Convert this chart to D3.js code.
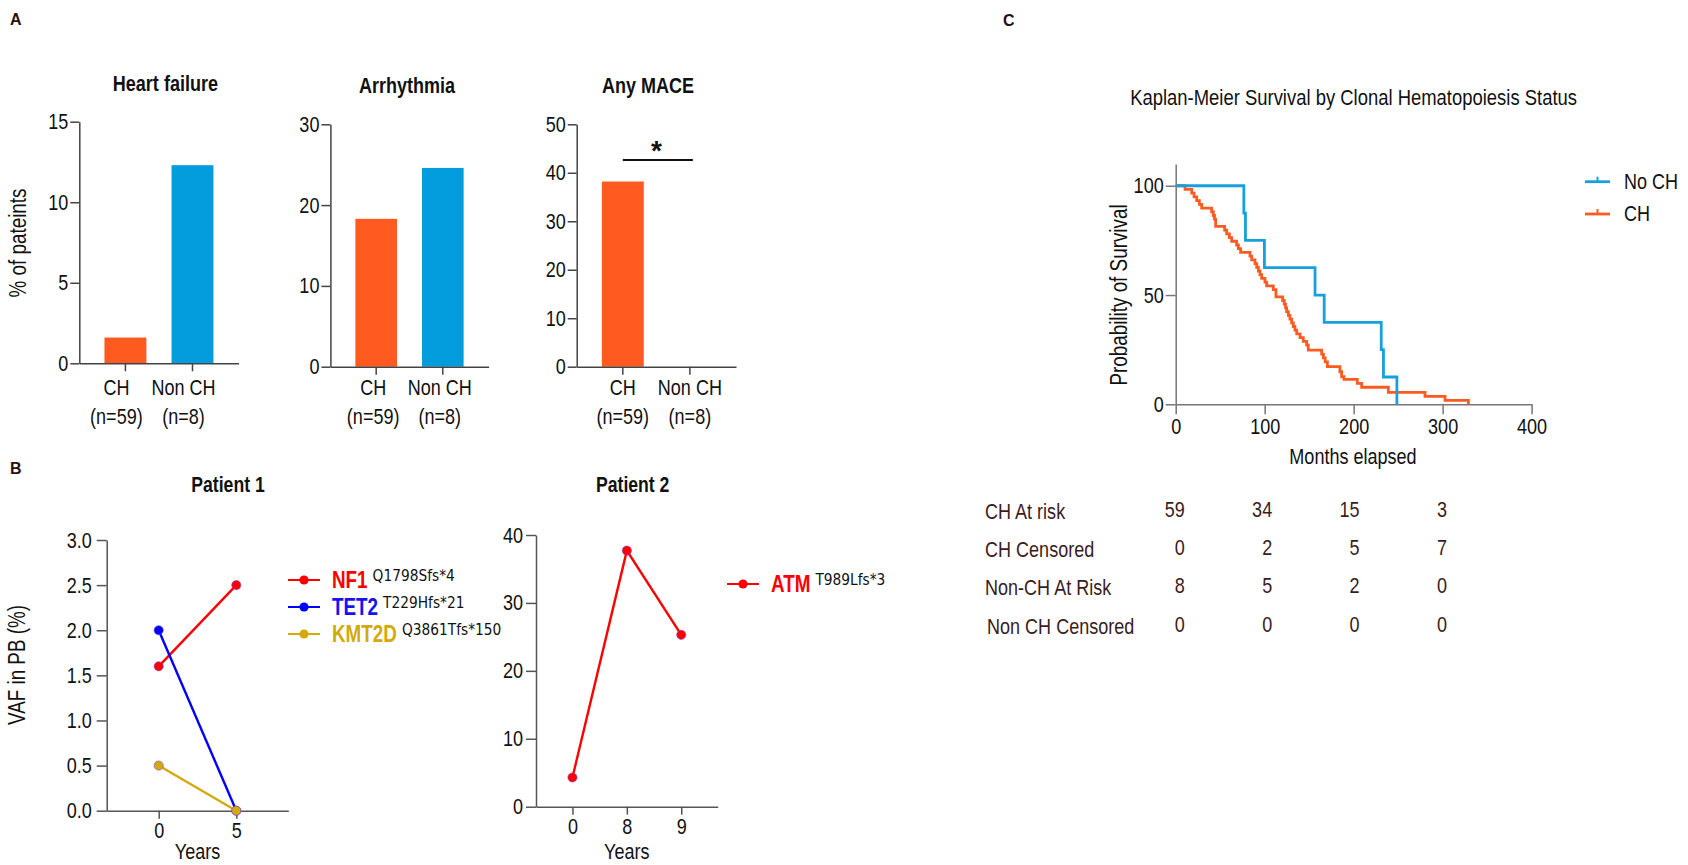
<!DOCTYPE html>
<html><head><meta charset="utf-8">
<script src="https://cdn.jsdelivr.net/npm/d3@7"></script>
<style>
body{margin:0;background:#fff}
svg{display:block}
text{font-family:'Liberation Sans',Arial,sans-serif}
</style></head>
<body><svg id="c" width="1688" height="865"></svg>
<script>
// ---------- DATA ----------
const barCategories = ["CH", "Non CH"];
const barCounts = ["(n=59)", "(n=8)"];
const barTitles = ["Heart failure", "Arrhythmia", "Any MACE"];
const heartFailure = [1.6, 12.3];
const arrhythmia = [18.3, 24.6];
const anyMace = [38.2, 0];
const hfTicks = [0, 5, 10, 15];
const arrTicks = [0, 10, 20, 30];
const maceTicks = [0, 10, 20, 30, 40, 50];
const barYLabel = "% of pateints";

const p1Years = ["0", "5"];
const p1Genes = ["NF1", "TET2", "KMT2D"];
const p1Mutations = ["Q1798Sfs*4", "T229Hfs*21", "Q3861Tfs*150"];
const nf1Vaf = [1.6, 2.5];
const tet2Vaf = [2.0, 0.0];
const kmt2dVaf = [0.5, 0.0];
const p1Ticks = [0, 0.5, 1.0, 1.5, 2.0, 2.5, 3.0];

const p2Years = ["0", "8", "9"];
const p2Genes = ["ATM"];
const p2Mutations = ["T989Lfs*3"];
const atmVaf = [4.3, 37.7, 25.3];
const p2Ticks = [0, 10, 20, 30, 40];

const kmTitle = "Kaplan-Meier Survival by Clonal Hematopoiesis Status";
const kmNoChTimes = [0, 76.6, 78.4, 99.7, 156.6, 166.9, 231, 233.5, 248.6];
const kmNoChSurv  = [100, 87.5, 75, 62.5, 50, 37.5, 25, 12.5, 0];
const kmChTimes = [0, 10.5, 18, 20.6, 23.6, 26.6, 29.2, 40.4, 42.3, 43.6, 44.9, 55, 57.3, 60.3, 62.9, 68.5, 70.4, 73,
  83.5, 85.4, 89.1, 91, 92.9, 94.7, 96.6, 100.3, 102.2, 109.7, 112.7, 120.2, 122, 123.5, 124.7, 126.6, 128.4, 130.3,
  132.2, 134, 136, 139.7, 143.4, 147.2, 149, 164, 166, 168, 170.5, 184.6, 186.5, 189.1, 204.1, 209, 239, 280.2, 302.7, 329];
const kmChSurv = [100, 98.3, 96.6, 94.9, 93.2, 91.5, 89.8, 88.1, 86.4, 84.7, 81.4, 79.7, 78.0, 76.3, 74.6, 72.9, 71.2, 69.5,
  67.8, 66.1, 64.4, 62.7, 61.0, 59.3, 57.6, 55.9, 54.2, 52.5, 49.2, 47.5, 45.8, 44.1, 42.4, 40.7, 39.0, 37.3,
  35.6, 33.9, 32.2, 30.5, 28.8, 27.1, 24.8, 23.0, 21.2, 19.4, 17.2, 14.9, 12.6, 11.4, 9.6, 7.8, 5.5, 3.6, 1.8, 0];
const kmXTicks = [0, 100, 200, 300, 400];
const kmYTicks = [0, 50, 100];
const kmLegend = ["No CH", "CH"];

const riskTimes = [0, 100, 200, 300];
const riskRows = ["CH At risk", "CH Censored", "Non-CH At Risk", "Non CH Censored"];
const chAtRisk = [59, 34, 15, 3];
const chCensored = [0, 2, 5, 7];
const nonChAtRisk = [8, 5, 2, 0];
const nonChCensored = [0, 0, 0, 0];

// ---------- STYLE ----------
const ORANGE = "#FF5A1F", BLUE = "#039CDC";
const KM_BLUE = "#17A0DE", KM_ORANGE = "#FF5A1F";
const TXT = "#111";
const NARROW = 0.82;
const svg = d3.select("#c");

function styleAxis(g, color, fs) {
  g.selectAll("path.domain").attr("stroke", color).attr("stroke-width", 1.5);
  g.selectAll(".tick line").attr("stroke", color).attr("stroke-width", 1.5);
  g.selectAll(".tick text").attr("fill", TXT).style("font-size", fs + "px")
    .style("font-family", "'Liberation Sans',Arial,sans-serif");
}

// Panel letters
[["A", 10, 25], ["B", 10, 474], ["C", 1003, 26]].forEach(([t, x, y]) => {
  svg.append("text").attr("class", "wide").attr("x", x).attr("y", y).text(t)
    .style("font-weight", "bold").style("font-size", "16px").attr("fill", "#2a0f0f");
});

// ---------- BAR CHARTS ----------
function barChart(o) {
  const g = svg.append("g");
  const x = d3.scaleBand().domain(barCategories).range([o.x0, o.x1]).padding(0.375);
  const y = d3.scaleLinear().domain([0, o.ymax]).range([o.yb, o.yt]);
  g.selectAll("rect").data(o.values).join("rect")
    .attr("x", (d, i) => x(barCategories[i])).attr("width", x.bandwidth())
    .attr("y", d => y(d)).attr("height", d => y(0) - y(d))
    .attr("fill", (d, i) => i === 0 ? ORANGE : BLUE);
  const ya = g.append("g").attr("transform", `translate(${o.x0},0)`)
    .call(d3.axisLeft(y).tickValues(o.ticks).tickSize(9).tickSizeOuter(0).tickPadding(2));
  styleAxis(ya, "#444", 22);
  const xa = g.append("g").attr("transform", `translate(0,${o.yb})`)
    .call(d3.axisBottom(x).tickSize(8).tickSizeOuter(0).tickFormat(""));
  styleAxis(xa, "#444", 22);
  barCategories.forEach((c, i) => {
    const cx = x(c) + x.bandwidth() / 2 + o.ldx;
    g.append("text").attr("x", cx).attr("y", 395).attr("text-anchor", "middle")
      .style("font-size", "22px").attr("fill", TXT).text(c);
    g.append("text").attr("x", cx).attr("y", 424).attr("text-anchor", "middle")
      .style("font-size", "22px").attr("fill", TXT).text(barCounts[i]);
  });
  g.append("text").attr("x", o.tx).attr("y", o.ty).attr("text-anchor", "middle")
    .style("font-size", "22px").style("font-weight", "bold").attr("fill", TXT).text(o.title);
  return {g, x, y};
}
barChart({x0: 79.3, x1: 238.6, yt: 121.7, yb: 363.3, ymax: 15, ticks: hfTicks, values: heartFailure,
  title: barTitles[0], tx: 165.4, ty: 91, ldx: -9});
barChart({x0: 330.4, x1: 488.6, yt: 124.3, yb: 366.7, ymax: 30, ticks: arrTicks, values: arrhythmia,
  title: barTitles[1], tx: 407, ty: 93, ldx: -3});
const mace = barChart({x0: 576.7, x1: 736, yt: 124.3, yb: 366.7, ymax: 50, ticks: maceTicks, values: anyMace,
  title: barTitles[2], tx: 648, ty: 93, ldx: 0});
// significance bar
{
  const xs = barCategories.map(c => mace.x(c) + mace.x.bandwidth() / 2);
  svg.append("line").attr("x1", xs[0]).attr("x2", xs[1] + 3).attr("y1", 160).attr("y2", 160)
    .attr("stroke", "#111").attr("stroke-width", 2);
  svg.append("text").attr("class", "wide").attr("x", (xs[0] + xs[1]) / 2).attr("y", 160).attr("text-anchor", "middle")
    .style("font-size", "28px").style("font-weight", "bold").attr("fill", TXT).text("*");
}
svg.append("text").attr("transform", "translate(26,243) rotate(-90)").attr("text-anchor", "middle")
  .style("font-size", "23px").attr("fill", TXT).text(barYLabel);

// ---------- PATIENT CHARTS ----------
function patientChart(o) {
  const g = svg.append("g");
  const x = d3.scalePoint().domain(o.years).range([o.x0, o.x1]).padding(0.67);
  const y = d3.scaleLinear().domain([0, o.ymax]).range([o.yb, o.yt]);
  const ya = g.append("g").attr("transform", `translate(${o.x0},0)`)
    .call(d3.axisLeft(y).tickValues(o.ticks).tickSize(10).tickSizeOuter(0).tickPadding(o.tp).tickFormat(o.fmt));
  styleAxis(ya, "#555", 22);
  const xa = g.append("g").attr("transform", `translate(0,${o.yb})`)
    .call(d3.axisBottom(x).tickSize(8).tickSizeOuter(0).tickPadding(4));
  styleAxis(xa, "#555", 22);
  g.append("text").attr("x", o.tx).attr("y", 492).attr("text-anchor", "middle")
    .style("font-size", "21.5px").style("font-weight", "bold").attr("fill", TXT).text(o.title);
  g.append("text").attr("x", (x(o.years[0]) + x(o.years[o.years.length - 1])) / 2).attr("y", 859)
    .attr("text-anchor", "middle").style("font-size", "22px").attr("fill", TXT).text("Years");
  const line = d3.line().x((d, i) => x(o.years[i])).y(d => y(d));
  o.series.forEach((s, k) => {
    g.append("path").attr("d", line(s.v)).attr("fill", "none").attr("stroke", s.c).attr("stroke-width", 2.4);
    g.selectAll(null).data(s.v).join("circle")
      .attr("cx", (d, i) => x(o.years[i])).attr("cy", d => y(d)).attr("r", 4.6)
      .attr("fill", s.c).attr("stroke", "#7a4ad8").attr("stroke-width", 0.6);
    const ly = o.ly0 + k * o.lstep;
    g.append("line").attr("x1", o.lx).attr("x2", o.lx + 32).attr("y1", ly).attr("y2", ly)
      .attr("stroke", s.c).attr("stroke-width", 2);
    g.append("circle").attr("cx", o.lx + 16).attr("cy", ly).attr("r", 4.6).attr("fill", s.c);
    const gt = g.append("text").attr("x", o.lx + 44).attr("y", ly + 8).text(s.gene).attr("fill", s.tc)
      .style("font-weight", "bold").style("font-size", "23px");
    const w = gt.node().getComputedTextLength() * NARROW;
    const mx = o.lx + 44 + w + 5;
    g.append("text").attr("class", "wide").attr("x", mx).attr("y", ly + 1).text(s.mut)
      .attr("fill", "#111").style("font-family", "'DejaVu Sans',Verdana,sans-serif").style("font-size", "16px")
      .attr("transform", `translate(${mx},0) scale(0.86,1) translate(${-mx},0)`);
  });
  return g;
}
patientChart({years: p1Years, x0: 106.7, x1: 288.3, yt: 540, yb: 810.7, ymax: 3, ticks: p1Ticks,
  fmt: d3.format(".1f"), tp: 5, title: "Patient 1", tx: 228, lx: 288, ly0: 580, lstep: 27,
  series: [
    {v: nf1Vaf, c: "#FF0000", tc: "#FF0000", gene: p1Genes[0], mut: p1Mutations[0]},
    {v: tet2Vaf, c: "#0000FF", tc: "#1414F0", gene: p1Genes[1], mut: p1Mutations[1]},
    {v: kmt2dVaf, c: "#D4AA0A", tc: "#D4AA0A", gene: p1Genes[2], mut: p1Mutations[2]}
  ]});
patientChart({years: p2Years, x0: 536, x1: 717.7, yt: 535, yb: 806.7, ymax: 40, ticks: p2Ticks,
  fmt: d3.format("d"), tp: 3, title: "Patient 2", tx: 632.7, lx: 727, ly0: 584, lstep: 27,
  series: [{v: atmVaf, c: "#FF0000", tc: "#FF0000", gene: p2Genes[0], mut: p2Mutations[0]}]});
svg.append("text").attr("transform", "translate(25,665) rotate(-90)").attr("text-anchor", "middle")
  .style("font-size", "23px").attr("fill", TXT).text("VAF in PB (%)");

// ---------- KAPLAN-MEIER ----------
{
  const g = svg.append("g");
  const x = d3.scaleLinear().domain([0, 400]).range([1175.7, 1531.6]);
  const y = d3.scaleLinear().domain([0, 110]).range([404.3, 163.9]);
  const ya = g.append("g").attr("transform", "translate(1175.7,0)")
    .call(d3.axisLeft(y).tickValues(kmYTicks).tickSize(10).tickSizeOuter(0).tickPadding(2));
  styleAxis(ya, "#777", 22);
  const xa = g.append("g").attr("transform", "translate(0,404.3)")
    .call(d3.axisBottom(x).tickValues(kmXTicks).tickSize(10).tickSizeOuter(0).tickPadding(4));
  styleAxis(xa, "#777", 22);
  const step = d3.line().x(d => x(d[0])).y(d => y(d[1])).curve(d3.curveStepAfter);
  const noCh = kmNoChTimes.map((t, i) => [t, kmNoChSurv[i]]);
  const ch = kmChTimes.map((t, i) => [t, kmChSurv[i]]);
  g.append("path").attr("d", step(ch)).attr("fill", "none").attr("stroke", KM_ORANGE).attr("stroke-width", 2.8);
  g.append("path").attr("d", step(noCh)).attr("fill", "none").attr("stroke", KM_BLUE).attr("stroke-width", 2.8);
  g.append("text").attr("x", 1353.6).attr("y", 105).attr("text-anchor", "middle")
    .style("font-size", "22.5px").attr("fill", TXT).text(kmTitle);
  g.append("text").attr("x", 1353).attr("y", 464).attr("text-anchor", "middle")
    .style("font-size", "22px").attr("fill", TXT).text("Months elapsed");
  g.append("text").attr("transform", "translate(1127,295) rotate(-90)").attr("text-anchor", "middle")
    .style("font-size", "23px").attr("fill", TXT).text("Probability of Survival");
  [[KM_BLUE, 181.7], [KM_ORANGE, 214]].forEach(([c, ly], i) => {
    g.append("line").attr("x1", 1585).attr("x2", 1610).attr("y1", ly).attr("y2", ly)
      .attr("stroke", c).attr("stroke-width", 2.8);
    g.append("line").attr("x1", 1597.5).attr("x2", 1597.5).attr("y1", ly - 5).attr("y2", ly)
      .attr("stroke", c).attr("stroke-width", 2);
    g.append("text").attr("x", 1624).attr("y", ly + 7).style("font-size", "22px").attr("fill", TXT).text(kmLegend[i]);
  });
  // risk table
  const tableVals = [chAtRisk, chCensored, nonChAtRisk, nonChCensored];
  const rowY = [519, 557, 595, 634];
  riskRows.forEach((r, i) => {
    g.append("text").attr("x", i === 3 ? 987 : 985).attr("y", rowY[i]).style("font-size", "22px")
      .attr("fill", "#3a1c1c").text(r);
    tableVals[i].forEach((v, j) => {
      g.append("text").attr("x", x(riskTimes[j]) + 9 - j * 1.5).attr("y", rowY[i] - 2).attr("text-anchor", "end")
        .style("font-size", "22px").attr("fill", "#3a1c1c").text(v);
    });
  });
}

// ---------- condensed lettering (the original uses a narrow face) ----------
svg.selectAll("text").filter(function () { return !this.classList.contains("wide"); }).each(function () {
  const el = d3.select(this);
  const x = parseFloat(el.attr("x")) || 0;
  const t = el.attr("transform") || "";
  el.attr("transform", `${t} translate(${x},0) scale(${NARROW},1) translate(${-x},0)`);
});
</script></body></html>
